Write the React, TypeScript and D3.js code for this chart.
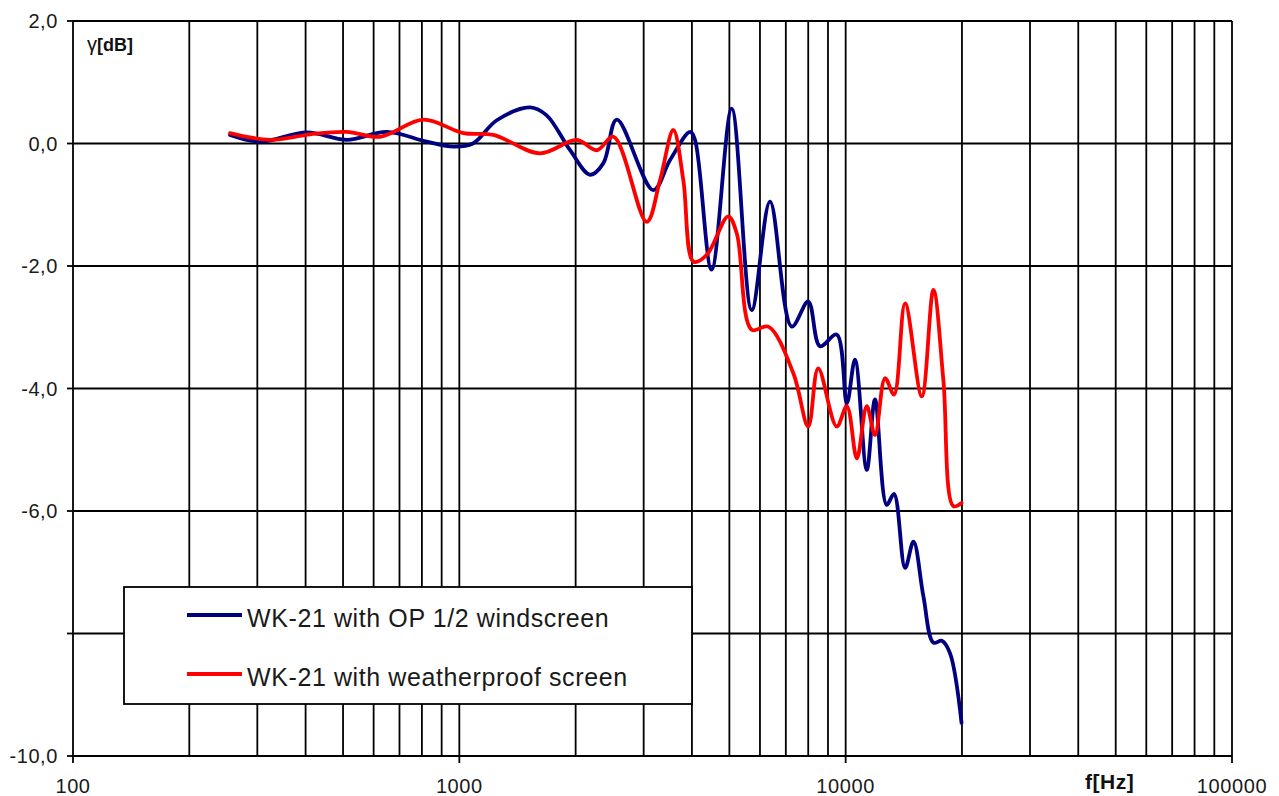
import { line, curveCatmullRom, scaleLinear, scaleLog, select } from "d3";
import { FC, useEffect, useRef } from "react";

const WIDTH = 1279;
const HEIGHT = 796;

// WK-21 with OP 1/2 windscreen
const blueFreq = [
  255, 305, 403, 511, 649, 824, 966, 1084, 1250, 1524, 1683, 1935, 2180, 2360,
  2556, 3177, 3511, 3955, 4074, 4498, 5070, 5712, 6370, 7250, 8000, 8580,
  9480, 10070, 10570, 11340, 11910, 12770, 13340, 14250, 14980, 15890, 16870,
  17740, 18620, 19950
];
const blueDb = [
  0.14, 0.03, 0.18, 0.06, 0.19, 0.03, -0.05, 0.0, 0.38, 0.59, 0.46, -0.11,
  -0.51, -0.32, 0.39, -0.76, -0.27, 0.19, 0.06, -2.06, 0.57, -2.72,
  -0.95, -2.99, -2.58, -3.31, -3.12, -4.24, -3.53, -5.33, -4.18, -5.9, -5.72,
  -6.93, -6.5, -7.39, -8.15, -8.12, -8.32, -9.46
];

// WK-21 with weatherproof screen
const redFreq = [
  255, 324, 411, 511, 624, 807, 1024, 1225, 1618, 2014, 2269, 2507, 3055,
  3307, 3581, 3800, 4040, 4369, 4966, 5227, 5712, 6310, 7320, 8000, 8490, 9480,
  10070, 10690, 11340, 11910, 12650, 13340, 14250, 15740, 16870, 17900, 19000,
  19950
];
const redDb = [
  0.17, 0.06, 0.15, 0.19, 0.11, 0.39, 0.17, 0.14, -0.16, 0.06, -0.11, 0.11,
  -1.28, -0.6, 0.22, -0.6, -1.93, -1.82, -1.19, -1.47, -3.04, -2.99,
  -3.75, -4.62, -3.67, -4.62, -4.29, -5.14, -4.29, -4.76, -3.83, -4.1, -2.61,
  -4.13, -2.39, -3.86, -5.92, -5.87
];

const seriesNames = ["WK-21 with OP 1/2 windscreen", "WK-21 with weatherproof screen"];
const seriesColors = ["#000080", "#ff0000"];

const xTickLabels = [100, 1000, 10000, 100000];
const yTickLabels = [2, 0, -2, -4, -6, -10];
const yGrid = [0, -2, -4, -6, -8];
const decades = [100, 1000, 10000];

const App: FC = () => {
  const svgRef = useRef(null);

  useEffect(() => {
    const svg = select(svgRef.current);
    svg.selectAll("*").remove();

    const x = scaleLog().domain([100, 100000]).range([73, 1232]);
    const y = scaleLinear().domain([-10, 2]).range([756, 21]);
    const font = "'Liberation Sans', Arial, sans-serif";

    // vertical grid
    const vLines: number[] = [];
    decades.forEach((d) => {
      for (let m = 1; m <= 9; m++) vLines.push(d * m);
    });
    vLines.push(100000);

    const grid = svg.append("g").attr("stroke", "#000").attr("stroke-width", 1.8);
    grid
      .selectAll("line.v")
      .data(vLines)
      .join("line")
      .attr("class", "v")
      .attr("x1", (d) => x(d))
      .attr("x2", (d) => x(d))
      .attr("y1", y(2))
      .attr("y2", y(-10));

    grid
      .selectAll("line.h")
      .data([2, ...yGrid, -10])
      .join("line")
      .attr("class", "h")
      .attr("x1", x(100))
      .attr("x2", x(100000))
      .attr("y1", (d) => y(d))
      .attr("y2", (d) => y(d));

    // tick marks
    grid
      .selectAll("line.yt")
      .data([2, ...yGrid, -10])
      .join("line")
      .attr("class", "yt")
      .attr("x1", x(100) - 6)
      .attr("x2", x(100))
      .attr("y1", (d) => y(d))
      .attr("y2", (d) => y(d));

    grid
      .selectAll("line.xt")
      .data(xTickLabels)
      .join("line")
      .attr("class", "xt")
      .attr("x1", (d) => x(d))
      .attr("x2", (d) => x(d))
      .attr("y1", y(-10))
      .attr("y2", y(-10) + 7);

    // tick labels
    svg
      .append("g")
      .selectAll("text")
      .data(yTickLabels)
      .join("text")
      .attr("x", 58)
      .attr("y", (d) => y(d) + 7)
      .attr("text-anchor", "end")
      .attr("font-family", font)
      .attr("font-size", 20)
      .attr("letter-spacing", 0.6)
      .attr("fill", "#1a1a1a")
      .text((d) => d.toFixed(1).replace(".", ","));

    svg
      .append("g")
      .selectAll("text")
      .data(xTickLabels)
      .join("text")
      .attr("x", (d) => x(d))
      .attr("y", 793)
      .attr("text-anchor", "middle")
      .attr("font-family", font)
      .attr("font-size", 20)
      .attr("letter-spacing", 0.6)
      .attr("fill", "#1a1a1a")
      .text((d) => String(d));

    // axis titles
    const yTitle = svg
      .append("text")
      .attr("x", 87)
      .attr("y", 51)
      .attr("font-family", font)
      .attr("font-size", 18)
      .attr("fill", "#111");
    yTitle.append("tspan").attr("font-size", 20).text("γ");
    yTitle.append("tspan").attr("font-weight", "bold").text("[dB]");

    svg
      .append("text")
      .attr("x", 1085)
      .attr("y", 789)
      .attr("font-family", font)
      .attr("font-size", 21)
      .attr("font-weight", "bold")
      .attr("letter-spacing", 0.5)
      .attr("fill", "#111")
      .text("f[Hz]");

    // curves
    const path = line<[number, number]>()
      .x((d) => x(d[0]))
      .y((d) => y(d[1]))
      .curve(curveCatmullRom.alpha(0.5));

    const series: [number, number][][] = [
      blueFreq.map((f, i) => [f, blueDb[i]]),
      redFreq.map((f, i) => [f, redDb[i]])
    ];

    svg
      .append("g")
      .selectAll("path")
      .data(series)
      .join("path")
      .attr("d", (d) => path(d))
      .attr("fill", "none")
      .attr("stroke", (_, i) => seriesColors[i])
      .attr("stroke-width", 3.8)
      .attr("stroke-linejoin", "round")
      .attr("stroke-linecap", "round");

    // legend
    const legend = svg.append("g");
    legend
      .append("rect")
      .attr("x", 124)
      .attr("y", 587)
      .attr("width", 568)
      .attr("height", 117)
      .attr("fill", "#fff")
      .attr("stroke", "#000")
      .attr("stroke-width", 1.8);

    const rows = legend
      .selectAll("g.row")
      .data(seriesNames)
      .join("g")
      .attr("class", "row")
      .attr("transform", (_, i) => `translate(0,${615 + i * 59})`);

    rows
      .append("line")
      .attr("x1", 187)
      .attr("x2", 242)
      .attr("y1", 0)
      .attr("y2", 0)
      .attr("stroke", (_, i) => seriesColors[i])
      .attr("stroke-width", 3.8);

    rows
      .append("text")
      .attr("x", 247)
      .attr("y", 12)
      .attr("font-family", font)
      .attr("font-size", 25)
      .attr("letter-spacing", 0.6)
      .attr("fill", "#1a1a1a")
      .text((d) => d);
  }, []);

  return (
    <svg
      ref={svgRef}
      width={WIDTH}
      height={HEIGHT}
      style={{ position: "absolute", left: 0, top: 0, background: "#fff" }}
    ></svg>
  );
};

export default App;
